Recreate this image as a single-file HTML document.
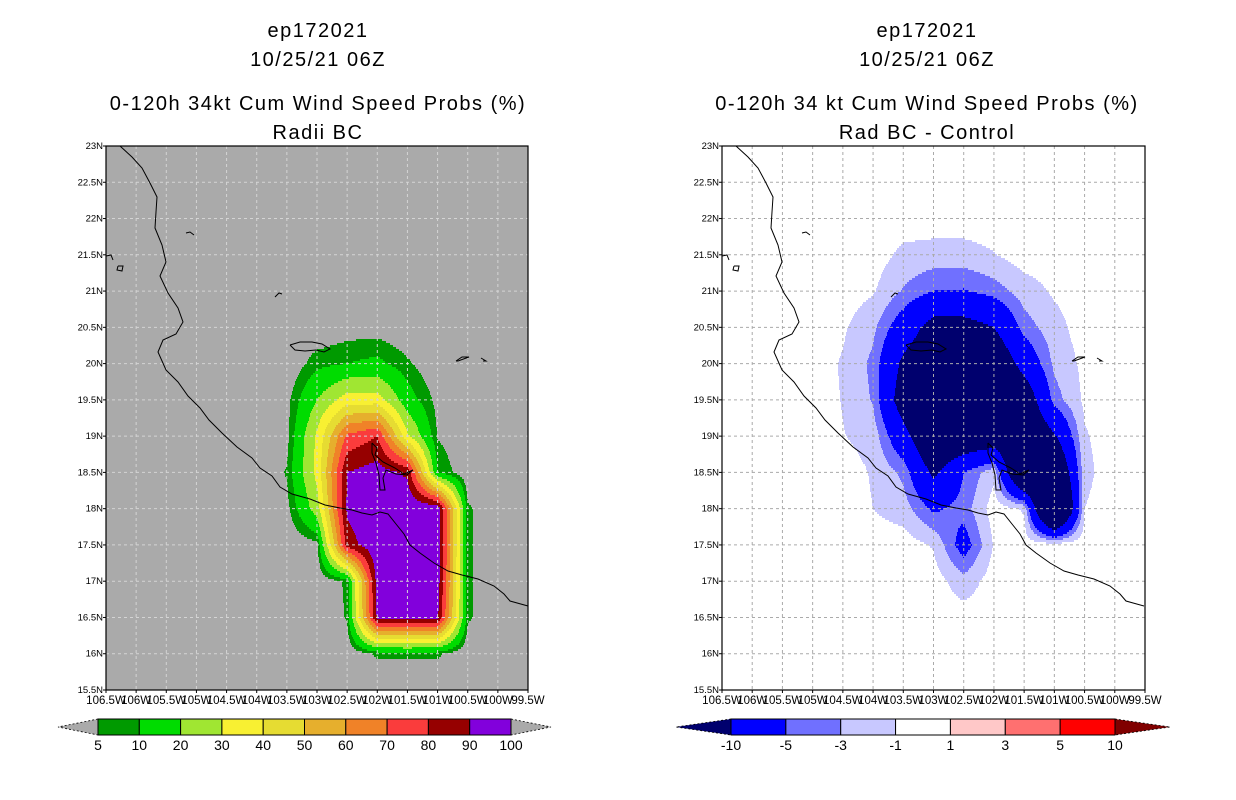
<!DOCTYPE html>
<html><head><meta charset="utf-8">
<style>
body{margin:0;background:#fff;width:1236px;height:800px;overflow:hidden;font-family:"Liberation Sans",sans-serif}
svg{position:absolute;left:0;top:0}
</style></head>
<body>
<svg id="chart" width="1236" height="800"></svg>
<script>
// ---- data ----
const leftLevels=[5,10,20,30,40,50,60,70,80,90,100];
const leftColors=["#009a00","#00dc00","#a0e632","#f8f032","#e6dc32","#e6af2d","#f08228","#fa3c3c","#960000","#8200dc"];
const leftLons=[104,103.5,103,102.5,102,101.5,101,100.5,100];
const leftLats=[21,20.5,20,19.5,19,18.5,18,17.5,17,16.5,16,15.5];
const leftGrid=[
[0,0,0,0,0,0,0,0,0],
[0,0,0,2,2,0,0,0,0],
[0,0,8,10,12,6,0,0,0],
[0,3,20,35,35,14,3,0,0],
[0,3,32,72,80,32,4.5,0,0],
[0,5.5,33,90,95,88,10,0,0],
[0,3,25,92,99,99,98,6,0],
[0,0,3,85,98,99,98,6,0],
[0,0,0,6,95,99,96,6,0],
[0,0,0,5.5,92,95,92,6,0],
[0,0,0,0,6,6,6,0,0],
[0,0,0,0,0,0,0,0,0]];
const rightLevels=[-10,-5,-3,-1,1,3,5,10];
const rightColors=["#00006e","#0000ff","#7070ff","#c8c8ff",null,"#ffc8c8","#ff7070","#ff0000","#800000"];
const rightLons=[105,104.5,104,103.5,103,102.5,102,101.5,101,100.5,100];
const rightLats=[22,21.5,21,20.5,20,19.5,19,18.5,18,17.5,17,16.5,16];
const rightGrid=[
[0,0,0,0,0,0,0,0,0,0,0],
[0,0,0,-1.5,-1.8,-1.8,-1.1,0,0,0,0],
[0,0,-0.8,-3.2,-5,-5.2,-4,-2,-0.7,0,0],
[0,-0.7,-2.5,-7,-12,-12,-10,-4,-1.8,0,0],
[0,-1.2,-3.5,-11,-15,-15,-15,-8,-2.5,-0.5,0],
[0,-1.1,-3.2,-13,-18,-18,-18,-14,-4,-0.6,0],
[0,-0.9,-1.8,-8,-16,-15,-14,-16,-10.5,-1.2,0],
[0,0,-1.2,-3.5,-11,-5,-1.5,-20,-18,-1.5,0],
[0,0,-1,-2,-5.5,-4,0,-1.2,-25,-1,0],
[0,0,0,0,-1.2,-6.5,-0.8,0,0,0,0],
[0,0,0,0,0,-2.2,0,0,0,0,0],
[0,0,0,0,0,0,0,0,0,0,0],
[0,0,0,0,0,0,0,0,0,0,0]];
const latTicks=["23N","22.5N","22N","21.5N","21N","20.5N","20N","19.5N","19N","18.5N","18N","17.5N","17N","16.5N","16N","15.5N"];
const lonTicks=["106.5W","106W","105.5W","105W","104.5W","104W","103.5W","103W","102.5W","102W","101.5W","101W","100.5W","100W","99.5W"];
const leftBarLabels=["5","10","20","30","40","50","60","70","80","90","100"];
const rightBarLabels=["-10","-5","-3","-1","1","3","5","10"];
// coastline in left-panel pixel coordinates
const coast=[[120,146],[132,157],[142,168],[150,183],[157,197],[156,212],[155,228],[162,245],[166,262],[160,276],[168,293],[178,308],[183,322],[176,334],[163,340],[158,352],[166,370],[178,382],[188,396],[200,408],[209,420],[222,433],[237,447],[252,458],[260,468],[272,476],[280,487],[292,494],[310,499],[325,505],[340,508],[352,510],[362,513],[372,515],[380,512],[388,514],[396,524],[404,534],[410,545],[420,553],[434,563],[448,571],[462,575],[478,579],[494,586],[504,594],[510,601],[528,606]];
const islands=[[[186,233],[190,232],[194,235]],[[275,297],[279,293],[282,294]],[[118,266],[123,266],[122,271],[117,270],[118,266]],[[106,256],[111,255],[113,260]],[[290,345],[300,342],[312,342],[322,344],[330,349],[324,352],[316,350],[305,351],[295,350],[290,345]],[[456,361],[462,357],[469,357],[458,361],[456,361]],[[481,358],[486,361],[483,361]],[[372,443],[377,448],[375,455],[383,462],[395,468],[404,474],[413,470],[407,475],[396,474],[386,470],[383,478],[385,490],[380,490],[379,475],[376,463],[372,453],[372,443]]];

const svg=document.getElementById('chart');
const NS="http://www.w3.org/2000/svg";
function mk(tag,attrs,parent){const e=document.createElementNS(NS,tag);for(const k in attrs)e.setAttribute(k,attrs[k]);(parent||svg).appendChild(e);return e;}

function bilinear(lons,lats,grid,lonW,lat){
  const n=lons.length,m=lats.length;
  if(lonW>lons[0]||lonW<lons[n-1]||lat>lats[0]||lat<lats[m-1])return 0;
  let i=Math.min(n-2,Math.floor((lons[0]-lonW)/0.5));
  let j=Math.min(m-2,Math.floor((lats[0]-lat)/0.5));
  const fx=(lons[i]-lonW)/0.5, fy=(lats[j]-lat)/0.5;
  const a=grid[j][i],b=grid[j][i+1],c=grid[j+1][i],d=grid[j+1][i+1];
  return a*(1-fx)*(1-fy)+b*fx*(1-fy)+c*(1-fx)*fy+d*fx*fy;
}
function leftColor(v){if(v<leftLevels[0])return null;for(let k=leftLevels.length-2;k>=0;k--)if(v>=leftLevels[k])return leftColors[k];return null;}
function rightColor(v){let k=0;while(k<rightLevels.length&&v>=rightLevels[k])k++;return rightColors[k];}

function panel(cfg){
  const {x0,y0,W,H,bg,gridCol,lons,lats,grid,colorFn,name,titles,cx}=cfg;
  const X=lonW=>x0+(106.5-lonW)/7*W;
  const Y=lat=>y0+(23-lat)/7.5*H;
  const g=mk('g',{});
  
  
  mk('rect',{x:x0,y:y0,width:W,height:H,fill:bg},g);
  const fg=mk('g',{'shape-rendering':'crispEdges'},g);
  
  
  const xa=Math.floor(X(lons[0])),xb=Math.ceil(X(lons[lons.length-1]));
  const ya=Math.floor(Y(lats[0])),yb=Math.ceil(Y(lats[lats.length-1]));
  for(let py=Math.max(ya,y0);py<Math.min(yb,y0+H);py+=2){
    let runStart=null,runCol=null;
    const lat=23-(py+1-y0)/H*7.5;
    for(let px=Math.max(xa,x0);px<=Math.min(xb,x0+W);px++){
      const lonW=106.5-(px+0.5-x0)/W*7;
      const col=px<Math.min(xb,x0+W)?colorFn(bilinear(lons,lats,grid,lonW,lat)):null;
      if(col!==runCol){
        if(runCol){const r=mk('rect',{x:runStart,y:py,width:px-runStart,height:2,fill:runCol},fg);}
        runStart=px;runCol=col;
      }
    }
    if(runCol){const r=mk('rect',{x:runStart,y:py,width:Math.min(xb,x0+W)-runStart,height:2,fill:runCol},fg);}
  }
  for(let k=1;k<14;k++){const x=X(106.5-k*0.5);mk('line',{x1:x,y1:y0,x2:x,y2:y0+H,stroke:gridCol,'stroke-width':1,'stroke-dasharray':'3,3'},g);}
  for(let k=1;k<15;k++){const y=Y(23-k*0.5);mk('line',{x1:x0,y1:y,x2:x0+W,y2:y,stroke:gridCol,'stroke-width':1,'stroke-dasharray':'3,3'},g);}
  const dx=x0-106;
  const cl=mk('polyline',{points:coast.map(p=>(p[0]+dx)+','+p[1]).join(' '),fill:'none',stroke:'#000','stroke-width':1},g);
  
  islands.forEach(isl=>{const e=mk('polyline',{points:isl.map(p=>(p[0]+dx)+','+p[1]).join(' '),fill:'none',stroke:'#000','stroke-width':1},g);});
  const fr=mk('rect',{x:x0,y:y0,width:W,height:H,fill:'none',stroke:'#000','stroke-width':1.2},g);
  
  latTicks.forEach((t,k)=>{const y=y0+k*H/15;mk('line',{x1:x0-3,y1:y,x2:x0,y2:y,stroke:'#000'},g);
    const tx=mk('text',{x:x0-3,y:y+3,'font-size':9.5,'text-anchor':'end',fill:'#000'},g);tx.textContent=t;});
  lonTicks.forEach((t,k)=>{const x=x0+k*W/14;mk('line',{x1:x,y1:y0+H,x2:x,y2:y0+H+3,stroke:'#000'},g);
    const tx=mk('text',{x:x,y:y0+H+14,'font-size':11.5,'text-anchor':'middle',fill:'#000'},g);tx.textContent=t;});
  const ty=[37,66,110,139];
  titles.forEach((t,k)=>{const tx=mk('text',{x:cx,y:ty[k],'font-size':20,'text-anchor':'middle',fill:'#000','letter-spacing':'1.5'},g);tx.textContent=t;});
}

panel({x0:106,y0:146,W:422,H:544,bg:'#aaaaaa',gridCol:'#d4d4d4',lons:leftLons,lats:leftLats,grid:leftGrid,colorFn:leftColor,name:'radii-bc-map',cx:318,
  titles:["ep172021","10/25/21 06Z","0-120h 34kt Cum Wind Speed Probs (%)","Radii BC"]});
panel({x0:722,y0:146,W:423,H:544,bg:'#ffffff',gridCol:'#aaaaaa',lons:rightLons,lats:rightLats,grid:rightGrid,colorFn:rightColor,name:'difference-map',cx:927,
  titles:["ep172021","10/25/21 06Z","0-120h 34 kt Cum Wind Speed Probs (%)","Rad BC - Control"]});

function colorbar(cfg){
  const {xs,xe,y,h,colors,labels,leftTri,rightTri,triW,name}=cfg;
  const g=mk('g',{});
  const bw=(xe-xs)/(labels.length-1);
  mk('polygon',{points:`${xs},${y} ${xs-triW},${y+h/2} ${xs},${y+h}`,fill:leftTri,stroke:'#000','stroke-width':0.8,'stroke-dasharray':'2,2'},g);
  mk('polygon',{points:`${xe},${y} ${xe+triW},${y+h/2} ${xe},${y+h}`,fill:rightTri,stroke:'#000','stroke-width':0.8,'stroke-dasharray':'2,2'},g);
  colors.forEach((c,k)=>{const r=mk('rect',{x:xs+k*bw,y:y,width:bw,height:h,fill:c||'#fff',stroke:'#000','stroke-width':1},g);});
  labels.forEach((t,k)=>{const tx=mk('text',{x:xs+k*bw,y:y+h+15,'font-size':14,'text-anchor':'middle',fill:'#000'},g);tx.textContent=t;});
}
colorbar({xs:98,xe:511,y:719,h:16,colors:leftColors,labels:leftBarLabels,leftTri:'#aaaaaa',rightTri:'#aaaaaa',triW:40,name:'left-colorbar'});
colorbar({xs:731,xe:1115,y:719,h:16,colors:rightColors.slice(1,8),labels:rightBarLabels,leftTri:rightColors[0],rightTri:rightColors[8],triW:55,name:'right-colorbar'});
</script>
</body></html>
